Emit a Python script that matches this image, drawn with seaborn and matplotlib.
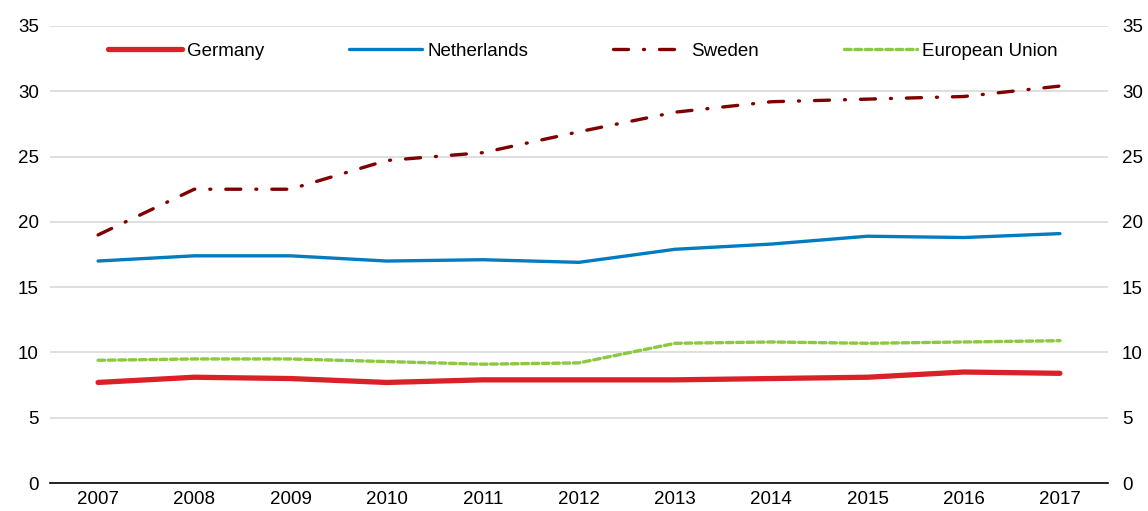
import matplotlib
matplotlib.use('Agg')
import matplotlib.pyplot as plt
import seaborn as sns
import pandas as pd
from matplotlib.ticker import FixedLocator

years = list(range(2007, 2018))
germany = [7.7, 8.1, 8.0, 7.7, 7.9, 7.9, 7.9, 8.0, 8.1, 8.5, 8.4]
netherlands = [17.0, 17.4, 17.4, 17.0, 17.1, 16.9, 17.9, 18.3, 18.9, 18.8, 19.1]
sweden = [19.0, 22.5, 22.5, 24.7, 25.3, 26.9, 28.4, 29.2, 29.4, 29.6, 30.4]
eu = [9.4, 9.5, 9.5, 9.3, 9.1, 9.2, 10.7, 10.8, 10.7, 10.8, 10.9]

series = {
    "Germany": germany,
    "Netherlands": netherlands,
    "Sweden": sweden,
    "European Union": eu,
}

# colour, width, dash pattern for each line
styles = {
    "Germany": ("#DA2128", 3.8, "-"),
    "Netherlands": ("#037BC1", 2.4, "-"),
    "Sweden": ("#7F0000", 2.4, (0, (4.5, 4.5, 0.3, 4.5))),
    "European Union": ("#8CC841", 2.4, (0, (2.0, 1.1))),
}

df = pd.DataFrame({"year": years, **series})
long_df = df.melt(id_vars="year", var_name="country", value_name="value")

sns.set_style("white")
plt.rcParams['font.family'] = ['Liberation Sans Narrow', 'Liberation Sans', 'DejaVu Sans']
plt.rcParams['text.color'] = 'black'
plt.rcParams['xtick.color'] = 'black'
plt.rcParams['ytick.color'] = 'black'

fig = plt.figure(figsize=(11.48, 5.11), dpi=100)
ax = fig.add_axes([50 / 1148, 1 - 483 / 511, 1058 / 1148, 457 / 511])

for name in series:
    color, lw, ls = styles[name]
    sub = long_df[long_df["country"] == name]
    sns.lineplot(data=sub, x="year", y="value", ax=ax, color=color, lw=lw,
                 linestyle=ls, label=name, dash_capstyle="round")

ax.set_xlim(2006.5, 2017.5)
ax.set_ylim(0, 35)
ax.set_yticks(range(0, 36, 5))
ax.set_xticks(years)
ax.set_xticklabels([str(y) for y in years])
ax.xaxis.set_minor_locator(FixedLocator([y + 0.5 for y in range(2006, 2018)]))
ax.set_xlabel("")
ax.set_ylabel("")

ax.grid(axis="y", color="#d9d9d9", lw=1.2)
ax.set_axisbelow(True)
for s in ["top", "left", "right"]:
    ax.spines[s].set_visible(False)
ax.spines["bottom"].set_color("black")
ax.spines["bottom"].set_linewidth(1.2)

ax.tick_params(axis="x", which="major", length=0, labelsize=13.5, pad=6)
ax.tick_params(axis="x", which="minor", direction="in", length=7, width=1.2, color="black")
ax.tick_params(axis="y", length=0, labelsize=13.5, pad=8)

ax2 = ax.twinx()
ax2.set_ylim(ax.get_ylim())
ax2.set_yticks(range(0, 36, 5))
ax2.tick_params(axis="y", length=0, labelsize=13.5, pad=10)
for s in ax2.spines.values():
    s.set_visible(False)
ax2.grid(False)

leg = ax.legend(loc="upper center", bbox_to_anchor=(0.504, 1.0), ncol=4, frameon=False,
                fontsize=13.5, handlelength=3.9, handletextpad=0.3, columnspacing=4.5)

fig.savefig("out.png", dpi=100)
